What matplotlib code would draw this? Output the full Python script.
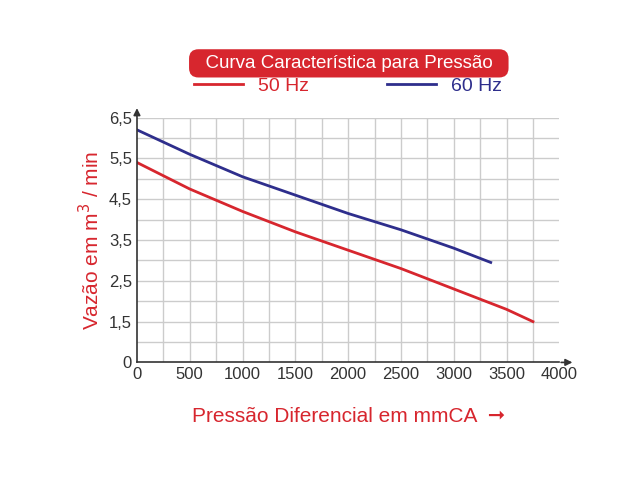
import matplotlib.pyplot as plt
import numpy as np

plt.rcParams['font.family'] = ['Liberation Sans', 'DejaVu Sans']

RED = "#d7262e"
BLUE = "#2e2e8c"

y_ticks = [0, 1.5, 2.5, 3.5, 4.5, 5.5, 6.5]
y_labels = ["0", "1,5", "2,5", "3,5", "4,5", "5,5", "6,5"]
x_ticks = [0, 500, 1000, 1500, 2000, 2500, 3000, 3500, 4000]

x_50 = [0, 500, 1000, 1500, 2000, 2500, 3000, 3500, 3750]
y_50 = [5.4, 4.75, 4.2, 3.7, 3.25, 2.8, 2.3, 1.8, 1.5]
x_60 = [0, 500, 1000, 1500, 2000, 2500, 3000, 3350]
y_60 = [6.2, 5.6, 5.05, 4.6, 4.15, 3.75, 3.3, 2.95]


def ypos(v):
    # y axis is compressed below 1,5
    v = np.asarray(v, dtype=float)
    return np.where(v >= 1.5, v - 0.5, v / 1.5)


fig = plt.figure(figsize=(6.4, 4.8), dpi=100)
ax = fig.add_axes([0.214, 0.245, 0.66, 0.51])
ax.set_xlim(0, 4000)
ax.set_ylim(0, 6)

for gx in np.arange(250, 4000, 250):
    ax.axvline(gx, color="#cccccc", lw=1, zorder=0)
for gy in np.arange(0.5, 6.01, 0.5):
    ax.axhline(gy, color="#cccccc", lw=1, zorder=0)

ax.plot(x_50, ypos(y_50), color=RED, lw=2, label="50 Hz")
ax.plot(x_60, ypos(y_60), color=BLUE, lw=2, label="60 Hz")

ax.set_xticks(x_ticks)
ax.set_yticks(ypos(y_ticks))
ax.set_yticklabels(y_labels)
ax.tick_params(length=0, labelsize=12, colors="#333333")
for s in ["top", "right"]:
    ax.spines[s].set_visible(False)
for s in ["left", "bottom"]:
    ax.spines[s].set_color("#333333")
    ax.spines[s].set_linewidth(1.2)
ax.annotate("", xy=(4150, 0), xytext=(3990, 0), annotation_clip=False,
            arrowprops=dict(arrowstyle="-|>", color="#333333", lw=1.2))
ax.annotate("", xy=(0, 6.3), xytext=(0, 5.95), annotation_clip=False,
            arrowprops=dict(arrowstyle="-|>", color="#333333", lw=1.2))

ax.set_xlabel("Pressão Diferencial em mmCA  \u279e", color=RED, fontsize=15,
              labelpad=18)
ax.set_ylabel("Vazão em m$^3$ / min", color=RED, fontsize=15)

fig.text(0.545, 0.868, "  Curva Característica para Pressão  ", ha="center",
         va="center", color="white", fontsize=13.5,
         bbox=dict(boxstyle="round,pad=0.3,rounding_size=0.5", facecolor=RED,
                   edgecolor="none"))
ax.legend(loc="lower center", bbox_to_anchor=(0.5, 1.02), ncol=2, frameon=False,
          fontsize=14, handlelength=2.5, columnspacing=4, labelcolor=[RED, BLUE])

fig.savefig("out.png")
